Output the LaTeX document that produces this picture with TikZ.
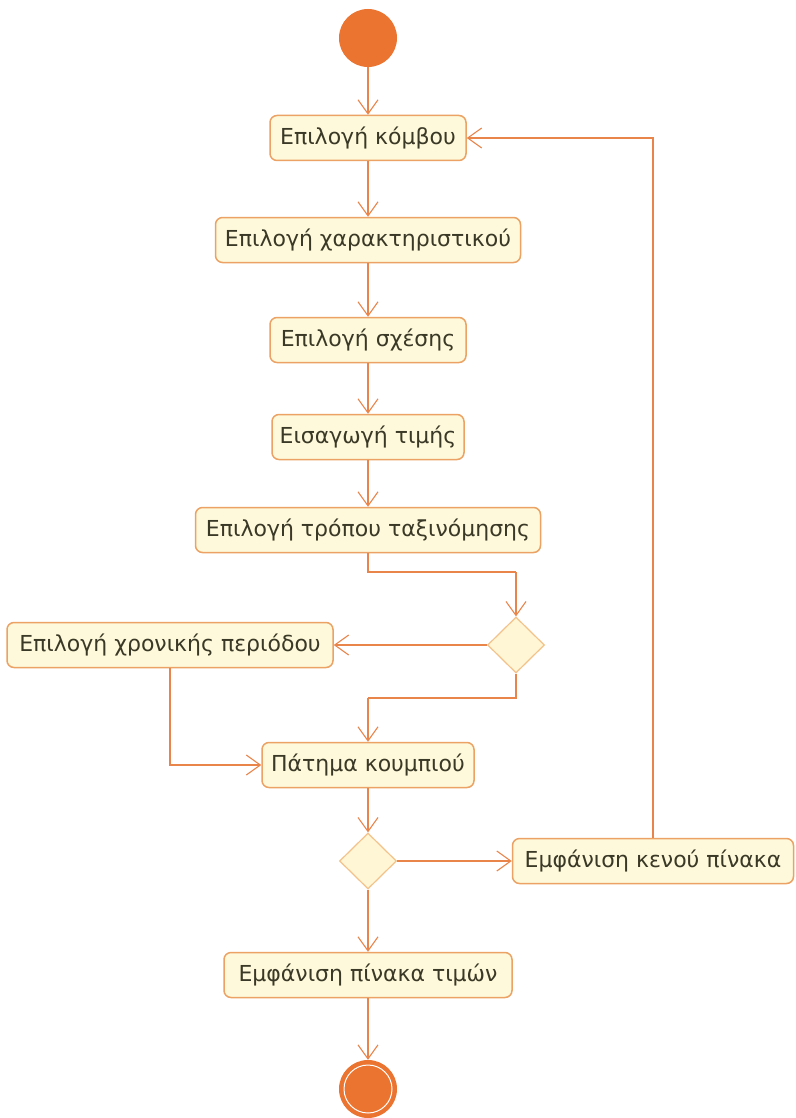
\documentclass[tikz,border=0pt]{standalone}
\usepackage{fontspec}
\setmainfont{DejaVu Sans}
\usetikzlibrary{arrows.meta,shapes.geometric}
\definecolor{flowline}{HTML}{E9854A}
\definecolor{dotfill}{HTML}{EB7430}
\definecolor{boxfill}{HTML}{FEF9DA}
\definecolor{boxline}{HTML}{EBA264}
\definecolor{diafill}{HTML}{FEF6D4}
\definecolor{dialine}{HTML}{F2C28A}
\definecolor{labeltext}{HTML}{3A3826}
\tikzset{
  action/.style={draw=boxline, line width=1.5pt, fill=boxfill, rounded corners=7pt,
    minimum height=45pt, inner sep=0pt, text=labeltext, font=\fontsize{22}{26}\selectfont},
  choice/.style={diamond, draw=dialine, line width=1.2pt, fill=diafill, inner sep=0pt,
    minimum width=57pt, minimum height=56pt},
  startdot/.style={circle, fill=dotfill, inner sep=0pt, minimum size=58pt},
  enddot/.style={circle, fill=dotfill, inner sep=0pt, minimum size=58pt},
  flow/.style={draw=flowline, line width=1.2pt,
    -{Straight Barb[length=14pt,width=20pt,line width=1.1pt]}},
  link/.style={draw=flowline, line width=1.2pt}
}
\begin{document}
\begin{tikzpicture}[x=1pt,y=-1pt]
\useasboundingbox[fill=white] (0,0) rectangle (795,1118);

% nodes
\node[startdot] (start) at (368,38) {};
\node[action, minimum width=196pt] (b1) at (368,138) {Επιλογή κόμβου};
\node[action, minimum width=305pt] (b2) at (368,240) {Επιλογή χαρακτηριστικού};
\node[action, minimum width=196pt] (b3) at (368,340) {Επιλογή σχέσης};
\node[action, minimum width=192pt] (b4) at (368,437) {Εισαγωγή τιμής};
\node[action, minimum width=345pt] (b5) at (368,530) {Επιλογή τρόπου ταξινόμησης};
\node[choice] (d1) at (516,645) {};
\node[action, minimum width=326pt] (b6) at (170,645) {Επιλογή χρονικής περιόδου};
\node[action, minimum width=212pt] (b7) at (368,765) {Πάτημα κουμπιού};
\node[choice] (d2) at (368,861) {};
\node[action, minimum width=281pt] (b8) at (653,861) {Εμφάνιση κενού πίνακα};
\node[action, minimum width=288pt] (b9) at (368,975) {Εμφάνιση πίνακα τιμών};
\node[enddot] (stop) at (368,1089) {};
\draw[white, line width=1pt] (stop.center) circle (24);

% bend points
\coordinate (k1) at (516,572);
\coordinate (k2) at (368,698);

% connectors
\draw[flow] (start) -- (b1);
\draw[flow] (b1) -- (b2);
\draw[flow] (b2) -- (b3);
\draw[flow] (b3) -- (b4);
\draw[flow] (b4) -- (b5);
\draw[link] (b5.south) |- (k1);
\draw[flow] (k1) -- (d1.north);
\draw[flow] (d1.west) -- (b6.east);
\draw[link] (d1.south) |- (k2);
\draw[flow] (k2) -- (b7.north);
\draw[flow] (b6.south) |- (b7.west);
\draw[flow] (b7) -- (d2);
\draw[flow] (d2.east) -- (b8.west);
\draw[flow] (b8.north) |- (b1.east);
\draw[flow] (d2) -- (b9);
\draw[flow] (b9) -- (stop);
\end{tikzpicture}
\end{document}
